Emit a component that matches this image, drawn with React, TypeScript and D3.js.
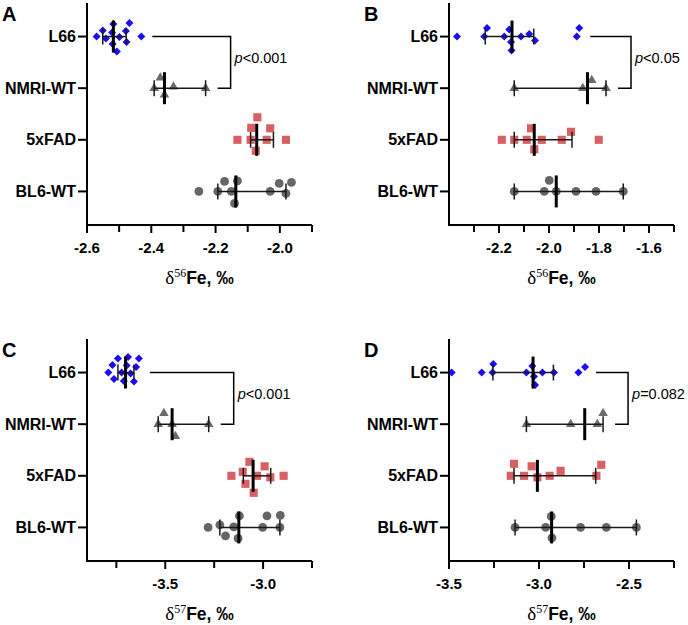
import React from "react";
import * as d3 from "d3";

// ---------- data ----------
const categories = ["L66", "NMRI-WT", "5xFAD", "BL6-WT"];

// Panel A: δ56Fe
const aL66 = [-2.570, -2.551, -2.541, -2.522, -2.520, -2.518, -2.507, -2.499, -2.479, -2.477, -2.468, -2.431];
const aNMRI = [-2.391, -2.372, -2.359, -2.331, -2.231];
const a5xFAD = [-2.132, -2.091, -2.089, -2.075, -2.070, -2.041, -2.030, -1.981];
const aBL6 = [-2.252, -2.193, -2.172, -2.151, -2.141, -2.132, -2.030, -2.002, -1.981, -1.964];
// median, lower, upper
const aSummary = [[-2.518, -2.551, -2.478], [-2.359, -2.391, -2.231], [-2.072, -2.091, -2.020], [-2.137, -2.193, -1.981]];
const aMajor = [-2.6, -2.4, -2.2, -2.0];
const aMinor = [-2.5, -2.3, -2.1, -1.9];

// Panel B: δ56Fe
const bL66 = [-2.368, -2.259, -2.248, -2.179, -2.159, -2.152, -2.150, -2.112, -2.079, -2.056, -1.889, -1.879];
const bNMRI = [-2.139, -1.865, -1.829, -1.772];
const b5xFAD = [-2.189, -2.139, -2.089, -2.072, -2.059, -2.029, -1.949, -1.912, -1.801];
const bBL6 = [-2.139, -2.019, -1.999, -1.971, -1.892, -1.812, -1.703];
const bSummary = [[-2.148, -2.255, -2.061], [-1.846, -2.139, -1.772], [-2.059, -2.139, -1.908], [-1.971, -2.139, -1.703]];
const bMajor = [-2.2, -2.0, -1.8, -1.6];
const bMinor = [-2.3, -2.1, -1.9, -1.7, -1.5];

// Panel C: δ57Fe
const cL66 = [-3.791, -3.770, -3.762, -3.742, -3.723, -3.712, -3.697, -3.690, -3.677, -3.660, -3.649, -3.635];
const cNMRI = [-3.536, -3.507, -3.465, -3.448, -3.278];
const c5xFAD = [-3.162, -3.104, -3.090, -3.070, -3.048, -3.031, -2.992, -2.963, -2.895];
const cBL6 = [-3.281, -3.221, -3.192, -3.150, -3.128, -3.121, -3.002, -2.980, -2.914, -2.912];
const cSummary = [[-3.703, -3.742, -3.660], [-3.465, -3.536, -3.278], [-3.051, -3.101, -2.961], [-3.124, -3.221, -2.914]];
const cMajor = [-3.5, -3.0];
const cMinor = [-3.75, -3.25, -2.75];

// Panel D: δ57Fe
const dL66 = [-3.485, -3.318, -3.258, -3.254, -3.070, -3.037, -3.028, -3.022, -2.981, -2.917, -2.781, -2.744];
const dNMRI = [-3.070, -2.824, -2.676, -2.644];
const d5xFAD = [-3.157, -3.139, -3.083, -3.041, -3.009, -2.941, -2.880, -2.681, -2.654];
const dBL6 = [-3.133, -2.963, -2.932, -2.928, -2.769, -2.626, -2.459];
const dSummary = [[-3.033, -3.256, -2.920], [-2.746, -3.070, -2.644], [-3.009, -3.139, -2.685], [-2.930, -3.133, -2.459]];
const dMajor = [-3.5, -3.0, -2.5];
const dMinor = [-3.25, -2.75, -2.25];

const pLabels = ["<0.001", "<0.05", "<0.001", "=0.082"];

// ---------- layout / style ----------
const SANS = "'Liberation Sans', Arial, Helvetica, sans-serif";
const SERIF = "'Liberation Serif', 'Times New Roman', serif";

const groupStyles = [
  { shape: "diamond", color: "#1c0cf5", dist: 8.5 },
  { shape: "triangle", color: "#6b6b6b", dist: 12 },
  { shape: "square", color: "#d6565c", dist: 12 },
  { shape: "circle", color: "#666666", dist: 12 },
];

const panels = [
  { letter: "A", left: 87, top: 3, domain: [-2.6, -1.9], groups: [aL66, aNMRI, a5xFAD, aBL6], summary: aSummary, major: aMajor, minor: aMinor, sup: "56", p: pLabels[0] },
  { letter: "B", left: 449, top: 3, domain: [-2.4, -1.5], groups: [bL66, bNMRI, b5xFAD, bBL6], summary: bSummary, major: bMajor, minor: bMinor, sup: "56", p: pLabels[1] },
  { letter: "C", left: 87, top: 339, domain: [-3.9, -2.75], groups: [cL66, cNMRI, c5xFAD, cBL6], summary: cSummary, major: cMajor, minor: cMinor, sup: "57", p: pLabels[2] },
  { letter: "D", left: 449, top: 339, domain: [-3.5, -2.25], groups: [dL66, dNMRI, d5xFAD, dBL6], summary: dSummary, major: dMajor, minor: dMinor, sup: "57", p: pLabels[3] },
];

const W = 225;
const H = 222;

function swarm(values: number[], xs: (v: number) => number, D: number) {
  const placed: { x: number; dy: number; v: number }[] = [];
  const sorted = [...values].sort((a, b) => a - b);
  for (const v of sorted) {
    const x = xs(v);
    let chosen = 0;
    for (let k = 0; k < 200; k++) {
      const cands = k === 0 ? [0] : [-k * 0.5, k * 0.5];
      let ok = false;
      for (const dy of cands) {
        const coll = placed.some((p) => (p.x - x) ** 2 + (p.dy - dy) ** 2 < D * D);
        if (!coll) {
          chosen = dy;
          ok = true;
          break;
        }
      }
      if (ok) break;
    }
    placed.push({ x, dy: chosen, v });
  }
  return placed;
}

function Marker({ shape, x, y, color }: { shape: string; x: number; y: number; color: string }) {
  if (shape === "circle") return <circle cx={x} cy={y} r={4.4} fill={color} />;
  if (shape === "square") {
    const p = d3.symbol(d3.symbolSquare, 66)();
    return <path d={p || ""} transform={`translate(${x},${y})`} fill={color} opacity={0.95} />;
  }
  if (shape === "triangle") {
    const p = d3.symbol(d3.symbolTriangle, 40)();
    return <path d={p || ""} transform={`translate(${x},${y})`} fill={color} />;
  }
  const p = d3.symbol(d3.symbolSquare, 32)();
  return <path d={p || ""} transform={`translate(${x},${y}) rotate(45)`} fill={color} />;
}

function Panel({ cfg }: { cfg: any }) {
  const { left, top, domain, groups, summary, major, minor, sup, p, letter } = cfg;
  const xs = d3.scaleLinear().domain(domain).range([left, left + W]);
  const ys = d3.scalePoint<string>().domain(categories).range([top, top + H]).padding(0.65);
  const axisY = top + H;

  const maxL = d3.max(groups[0] as number[]) as number;
  const maxN = d3.max(groups[1] as number[]) as number;
  const bx = Math.max(xs(maxL), xs(maxN)) + 25;
  const y0 = ys(categories[0]) as number;
  const y1 = ys(categories[1]) as number;

  return (
    <g>
      <text x={left - 85} y={top + 18} fontFamily={SANS} fontWeight="bold" fontSize={20}>
        {letter}
      </text>
      {/* points */}
      {groups.map((vals: number[], gi: number) => {
        const st = groupStyles[gi];
        const cy = ys(categories[gi]) as number;
        return swarm(vals, xs, st.dist).map((pt, i) => (
          <Marker key={`${gi}-${i}`} shape={st.shape} x={pt.x} y={cy + pt.dy} color={st.color} />
        ));
      })}
      {/* median + range bars */}
      {summary.map((s: number[], gi: number) => {
        const cy = ys(categories[gi]) as number;
        const [med, lo, hi] = s;
        return (
          <g key={`s${gi}`}>
            <line x1={xs(lo)} x2={xs(hi)} y1={cy} y2={cy} stroke="#1a1a1a" strokeWidth={1.5} />
            <line x1={xs(lo)} x2={xs(lo)} y1={cy - 8} y2={cy + 8} stroke="#1a1a1a" strokeWidth={1.5} />
            <line x1={xs(hi)} x2={xs(hi)} y1={cy - 8} y2={cy + 8} stroke="#1a1a1a" strokeWidth={1.5} />
            <line x1={xs(med)} x2={xs(med)} y1={cy - 16} y2={cy + 16} stroke="#000" strokeWidth={3} />
          </g>
        );
      })}
      {/* significance bracket */}
      <path
        d={`M${xs(maxL) + 11},${y0}H${bx}V${y1}H${xs(maxN) + 12}`}
        fill="none"
        stroke="#000"
        strokeWidth={1.5}
      />
      <text x={bx + 4} y={(y0 + y1) / 2 + 1} fontFamily={SANS} fontSize={14.5}>
        <tspan fontStyle="italic">p</tspan>
        {p}
      </text>
      {/* axes */}
      <line x1={left} x2={left} y1={top} y2={axisY + 1} stroke="#000" strokeWidth={2} />
      <line x1={left - 1} x2={left + W} y1={axisY} y2={axisY} stroke="#000" strokeWidth={2} />
      {categories.map((c) => (
        <g key={c}>
          <line x1={left - 9} x2={left} y1={ys(c)} y2={ys(c)} stroke="#000" strokeWidth={2} />
          <text
            x={left - 11}
            y={(ys(c) as number) + 5.5}
            textAnchor="end"
            fontFamily={SANS}
            fontWeight="bold"
            fontSize={16}
          >
            {c}
          </text>
        </g>
      ))}
      {major.map((t: number) => (
        <g key={`M${t}`}>
          <line x1={xs(t)} x2={xs(t)} y1={axisY} y2={axisY + 8} stroke="#000" strokeWidth={2} />
          <text x={xs(t)} y={axisY + 28} textAnchor="middle" fontFamily={SANS} fontWeight="bold" fontSize={15}>
            {t.toFixed(1)}
          </text>
        </g>
      ))}
      {minor.map((t: number) => (
        <line key={`m${t}`} x1={xs(t)} x2={xs(t)} y1={axisY} y2={axisY + 7} stroke="#000" strokeWidth={2} />
      ))}
      <text x={left + W / 2} y={axisY + 59} textAnchor="middle">
        <tspan fontFamily={SERIF} fontSize={19}>δ</tspan>
        <tspan fontFamily={SERIF} fontSize={12} dy={-7}>{sup}</tspan>
        <tspan fontFamily={SANS} fontWeight="bold" fontSize={17.5} dy={7}>Fe, ‰</tspan>
      </text>
    </g>
  );
}

export default function App() {
  return (
    <svg
      width={688}
      height={625}
      viewBox="0 0 688 625"
      style={{ position: "absolute", left: 0, top: 0, background: "#fff" }}
    >
      <rect x={0} y={0} width={688} height={625} fill="#fff" />
      {panels.map((cfg) => (
        <Panel key={cfg.letter} cfg={cfg} />
      ))}
    </svg>
  );
}
